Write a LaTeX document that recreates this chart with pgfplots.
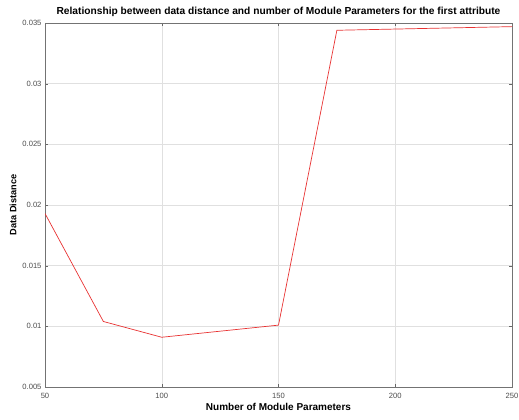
\documentclass[border=0pt]{standalone}
\usepackage{fontspec}
\setmainfont{Liberation Sans}
\usepackage{pgfplots}
\pgfplotsset{compat=1.18}
\definecolor{lred}{RGB}{232,50,50}
\begin{document}
\begin{tikzpicture}
\useasboundingbox (-45pt,-33pt) rectangle (474pt,387pt);
\begin{axis}[
  at={(0,0)}, anchor=south west,
  scale only axis,
  width=467pt, height=364pt,
  xmin=50, xmax=250, ymin=0.005, ymax=0.035,
  xtick={50,100,150,200,250},
  ytick={0.005,0.01,0.015,0.02,0.025,0.03,0.035},
  yticklabels={0.005,0.01,0.015,0.02,0.025,0.03,0.035},
  scaled y ticks=false,
  /pgf/number format/assume math mode=true,
  tick label style={font=\fontsize{7.6}{9}\selectfont, color=black!70},
  xticklabel style={yshift=-3pt},
  tick align=inside,
  tick style={color=black!60},
  major tick length=3pt,
  grid=major,
  grid style={color=black!12, line width=0.4pt},
  axis line style={color=black!55, line width=0.8pt},
  title={\textbf{Relationship between data distance and number of Module Parameters for the first attribute}},
  title style={font=\fontsize{10.2}{12}\selectfont, yshift=-3pt},
  xlabel={\textbf{Number of Module Parameters}},
  ylabel={\textbf{Data Distance}},
  xlabel style={font=\fontsize{10}{12}\selectfont, yshift=3pt},
  ylabel style={font=\fontsize{9.2}{11}\selectfont, yshift=-1pt},
]
\addplot[color=lred, line width=0.7pt, mark=none] coordinates {
(50,0.0193) (75,0.0104) (100,0.0091) (150,0.0101) (175,0.0344) (250,0.0347)
};
\end{axis}
\end{tikzpicture}
\end{document}
